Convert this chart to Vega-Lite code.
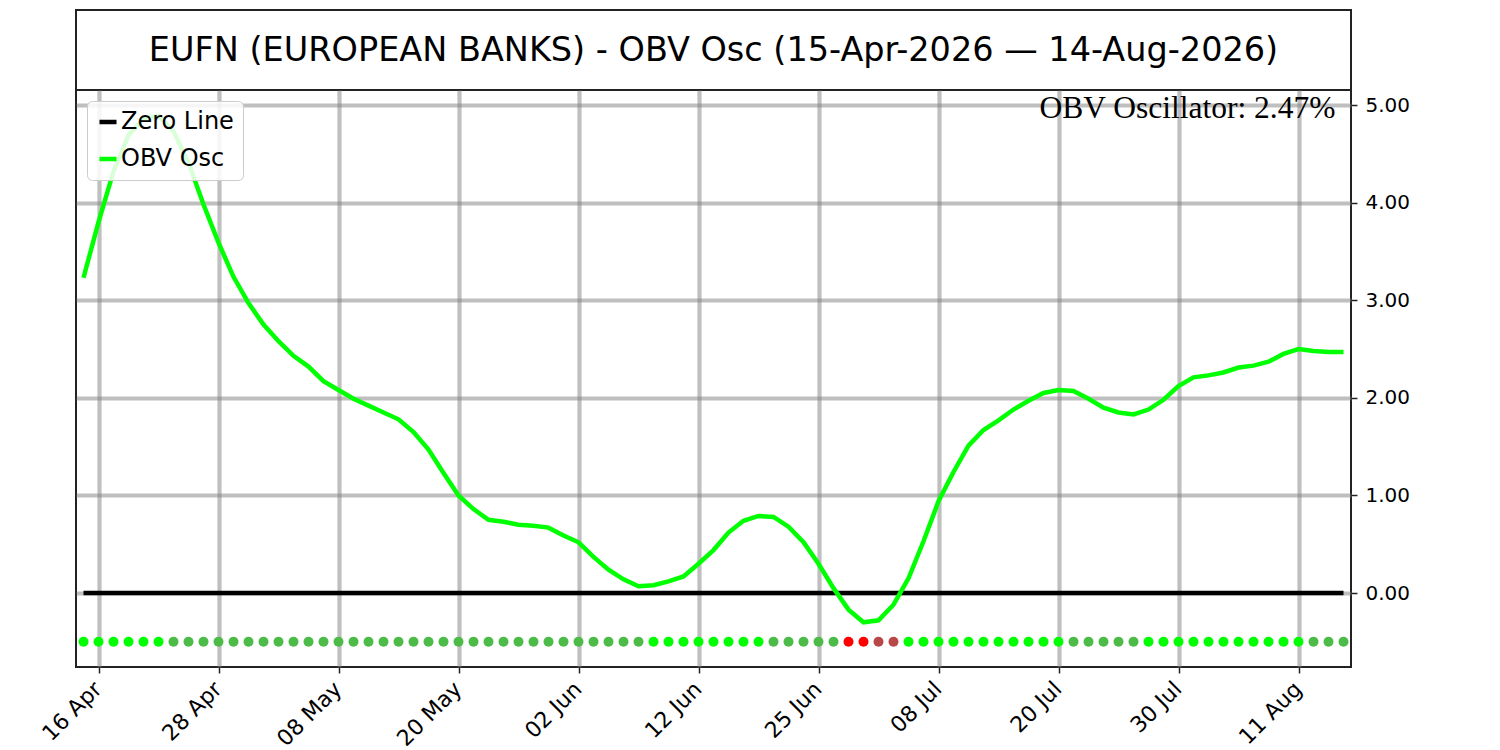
{
  "$schema": "https://vega.github.io/schema/vega-lite/v6.json",
  "background": "white",
  "padding": {"left": 37, "top": 9, "right": 5, "bottom": 5},
  "config": {
    "font": "DejaVu Sans",
    "view": {"stroke": "#222222", "strokeWidth": 2}
  },
  "datasets": {
    "osc": [
      {"d": "15 Apr", "osc": 3.23, "s": "up"},
      {"d": "16 Apr", "osc": 3.80, "s": "up"},
      {"d": "17 Apr", "osc": 4.32, "s": "up"},
      {"d": "20 Apr", "osc": 4.69, "s": "up"},
      {"d": "21 Apr", "osc": 4.86, "s": "up"},
      {"d": "22 Apr", "osc": 4.89, "s": "up"},
      {"d": "23 Apr", "osc": 4.73, "s": "down"},
      {"d": "24 Apr", "osc": 4.41, "s": "down"},
      {"d": "27 Apr", "osc": 3.98, "s": "down"},
      {"d": "28 Apr", "osc": 3.59, "s": "down"},
      {"d": "29 Apr", "osc": 3.24, "s": "down"},
      {"d": "30 Apr", "osc": 2.97, "s": "down"},
      {"d": "01 May", "osc": 2.75, "s": "down"},
      {"d": "04 May", "osc": 2.58, "s": "down"},
      {"d": "05 May", "osc": 2.43, "s": "down"},
      {"d": "06 May", "osc": 2.32, "s": "down"},
      {"d": "07 May", "osc": 2.17, "s": "down"},
      {"d": "08 May", "osc": 2.08, "s": "down"},
      {"d": "11 May", "osc": 1.99, "s": "down"},
      {"d": "12 May", "osc": 1.92, "s": "down"},
      {"d": "13 May", "osc": 1.85, "s": "down"},
      {"d": "14 May", "osc": 1.78, "s": "down"},
      {"d": "15 May", "osc": 1.65, "s": "down"},
      {"d": "18 May", "osc": 1.47, "s": "down"},
      {"d": "19 May", "osc": 1.23, "s": "down"},
      {"d": "20 May", "osc": 1.00, "s": "down"},
      {"d": "21 May", "osc": 0.86, "s": "down"},
      {"d": "22 May", "osc": 0.75, "s": "down"},
      {"d": "26 May", "osc": 0.73, "s": "down"},
      {"d": "27 May", "osc": 0.70, "s": "down"},
      {"d": "28 May", "osc": 0.69, "s": "down"},
      {"d": "29 May", "osc": 0.67, "s": "down"},
      {"d": "01 Jun", "osc": 0.59, "s": "down"},
      {"d": "02 Jun", "osc": 0.52, "s": "down"},
      {"d": "03 Jun", "osc": 0.37, "s": "down"},
      {"d": "04 Jun", "osc": 0.24, "s": "down"},
      {"d": "05 Jun", "osc": 0.14, "s": "down"},
      {"d": "08 Jun", "osc": 0.07, "s": "down"},
      {"d": "09 Jun", "osc": 0.08, "s": "up"},
      {"d": "10 Jun", "osc": 0.12, "s": "up"},
      {"d": "11 Jun", "osc": 0.17, "s": "up"},
      {"d": "12 Jun", "osc": 0.30, "s": "up"},
      {"d": "15 Jun", "osc": 0.44, "s": "up"},
      {"d": "16 Jun", "osc": 0.62, "s": "up"},
      {"d": "17 Jun", "osc": 0.74, "s": "up"},
      {"d": "18 Jun", "osc": 0.79, "s": "up"},
      {"d": "22 Jun", "osc": 0.78, "s": "down"},
      {"d": "23 Jun", "osc": 0.68, "s": "down"},
      {"d": "24 Jun", "osc": 0.52, "s": "down"},
      {"d": "25 Jun", "osc": 0.30, "s": "down"},
      {"d": "26 Jun", "osc": 0.05, "s": "down"},
      {"d": "29 Jun", "osc": -0.17, "s": "negdown"},
      {"d": "30 Jun", "osc": -0.30, "s": "negdown"},
      {"d": "01 Jul", "osc": -0.28, "s": "negup"},
      {"d": "02 Jul", "osc": -0.12, "s": "negup"},
      {"d": "06 Jul", "osc": 0.15, "s": "up"},
      {"d": "07 Jul", "osc": 0.53, "s": "up"},
      {"d": "08 Jul", "osc": 0.94, "s": "up"},
      {"d": "09 Jul", "osc": 1.24, "s": "up"},
      {"d": "10 Jul", "osc": 1.51, "s": "up"},
      {"d": "13 Jul", "osc": 1.67, "s": "up"},
      {"d": "14 Jul", "osc": 1.77, "s": "up"},
      {"d": "15 Jul", "osc": 1.88, "s": "up"},
      {"d": "16 Jul", "osc": 1.97, "s": "up"},
      {"d": "17 Jul", "osc": 2.05, "s": "up"},
      {"d": "20 Jul", "osc": 2.08, "s": "up"},
      {"d": "21 Jul", "osc": 2.07, "s": "down"},
      {"d": "22 Jul", "osc": 1.99, "s": "down"},
      {"d": "23 Jul", "osc": 1.90, "s": "down"},
      {"d": "24 Jul", "osc": 1.85, "s": "down"},
      {"d": "27 Jul", "osc": 1.83, "s": "down"},
      {"d": "28 Jul", "osc": 1.88, "s": "up"},
      {"d": "29 Jul", "osc": 1.98, "s": "up"},
      {"d": "30 Jul", "osc": 2.12, "s": "up"},
      {"d": "31 Jul", "osc": 2.21, "s": "up"},
      {"d": "03 Aug", "osc": 2.23, "s": "up"},
      {"d": "04 Aug", "osc": 2.26, "s": "up"},
      {"d": "05 Aug", "osc": 2.31, "s": "up"},
      {"d": "06 Aug", "osc": 2.33, "s": "up"},
      {"d": "07 Aug", "osc": 2.37, "s": "up"},
      {"d": "10 Aug", "osc": 2.45, "s": "up"},
      {"d": "11 Aug", "osc": 2.50, "s": "up"},
      {"d": "12 Aug", "osc": 2.48, "s": "down"},
      {"d": "13 Aug", "osc": 2.47, "s": "down"},
      {"d": "14 Aug", "osc": 2.47, "s": "down"}
    ]
  },
  "spacing": 0,
  "bounds": "flush",
  "resolve": {"legend": {"color": "independent"}, "scale": {"color": "independent"}},
  "vconcat": [
    {
      "width": 1275,
      "height": 80,
      "view": {"stroke": "#222222", "strokeWidth": 2, "fill": "white"},
      "data": {"values": [{"t": "EUFN (EUROPEAN BANKS) - OBV Osc (15-Apr-2026 — 14-Aug-2026)"}]},
      "mark": {"type": "text", "fontSize": 33.5, "font": "DejaVu Sans", "color": "black", "dy": 1},
      "encoding": {"text": {"field": "t"}}
    },
    {
      "width": 1275,
      "height": 577,
      "data": {"name": "osc"},
      "encoding": {
        "x": {
          "field": "d",
          "type": "ordinal",
          "sort": null,
          "scale": {"type": "point", "padding": 0.5},
          "axis": {
            "values": ["16 Apr", "28 Apr", "08 May", "20 May", "02 Jun", "12 Jun", "25 Jun", "08 Jul", "20 Jul", "30 Jul", "11 Aug"],
            "title": null,
            "labelAngle": -45,
            "labelAlign": "right",
            "labelBaseline": "top",
            "labelFontSize": 22,
            "labelColor": "black",
            "labelPadding": 5,
            "labelOffset": -8,
            "tickSize": 6,
            "tickColor": "#222222",
            "tickWidth": 1.5,
            "domain": false,
            "grid": true,
            "gridColor": "#808080",
            "gridOpacity": 0.5,
            "gridWidth": 4.2
          }
        }
      },
      "layer": [
        {
          "mark": {"type": "line", "strokeWidth": 4.5},
          "encoding": {
            "y": {"datum": 0, "type": "quantitative"},
            "color": {
              "datum": "Zero Line",
              "type": "nominal",
              "scale": {"domain": ["Zero Line", "OBV Osc"], "range": ["black", "#00ff00"]},
              "legend": {
                "title": null,
                "orient": "top-left",
                "offset": 11,
                "labelFontSize": 24,
                "labelFont": "DejaVu Sans",
                "labelColor": "black",
                "labelOffset": 1,
                "labelLimit": 0,
                "symbolType": "stroke",
                "symbolStrokeWidth": 4.5,
                "symbolSize": 290,
                "padding": 9,
                "rowPadding": 13,
                "strokeColor": "#cccccc",
                "fillColor": "rgba(255,255,255,0.85)",
                "cornerRadius": 5
              }
            }
          }
        },
        {
          "mark": {"type": "line", "strokeWidth": 4.5},
          "encoding": {
            "y": {
              "field": "osc",
              "type": "quantitative",
              "scale": {"domain": [-0.758, 5.154], "nice": false, "zero": false},
              "axis": {
                "orient": "right",
                "values": [0, 1, 2, 3, 4, 5],
                "format": ".2f",
                "title": null,
                "labelFontSize": 20,
                "labelColor": "black",
                "labelPadding": 8,
                "tickSize": 6,
                "tickColor": "#222222",
                "tickWidth": 1.5,
                "domain": false,
                "grid": true,
                "gridColor": "#808080",
                "gridOpacity": 0.5,
                "gridWidth": 4.2
              }
            },
            "color": {"datum": "OBV Osc", "type": "nominal"}
          }
        },
        {
          "mark": {"type": "circle", "size": 100, "opacity": 1},
          "encoding": {
            "y": {"datum": -0.5, "type": "quantitative"},
            "fill": {
              "field": "s",
              "type": "nominal",
              "scale": {"domain": ["up", "down", "negdown", "negup"], "range": ["#00ff00", "#4cbb48", "#ff0000", "#b84848"]},
              "legend": null
            }
          }
        },
        {
          "transform": [
            {"filter": "datum.d === '14 Aug'"},
            {"calculate": "'OBV Oscillator: ' + format(datum.osc, '.2f') + '%'", "as": "label"}
          ],
          "mark": {"type": "text", "font": "Liberation Serif", "fontSize": 31.5, "align": "right", "baseline": "alphabetic", "dx": -8, "color": "black"},
          "encoding": {
            "y": {"datum": 4.87, "type": "quantitative"},
            "text": {"field": "label"}
          }
        }
      ]
    }
  ]
}
